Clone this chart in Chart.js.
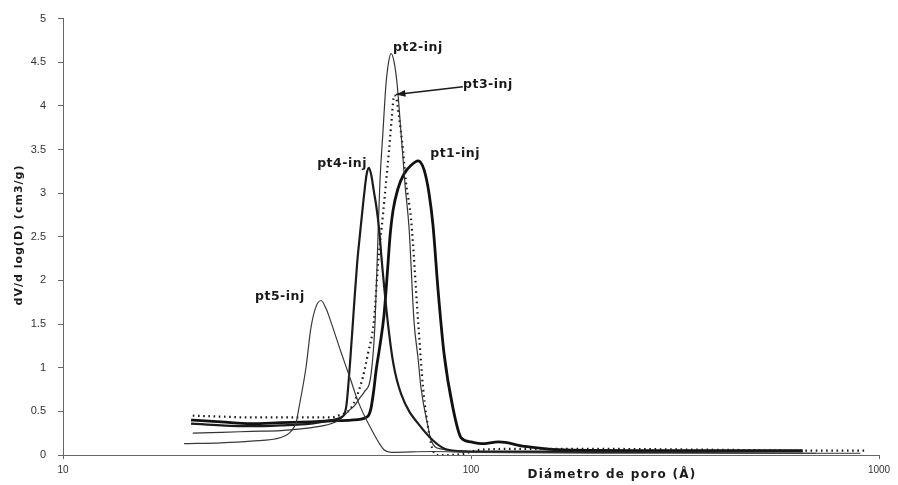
<!DOCTYPE html>
<html>
<head>
<meta charset="utf-8">
<script src="https://cdn.jsdelivr.net/npm/chart.js@4/dist/chart.umd.min.js"></script>
<style>
  html, body { margin: 0; padding: 0; background: #fff; }
  #wrap { width: 898px; height: 485px; }
</style>
</head>
<body>
<div id="wrap"><canvas id="chartPoros" width="898" height="485"></canvas></div>
<script>
// diámetro de poro (Å) y dV/d log(D)
const pt1D = [20.6, 24.4, 28.9, 34.2, 40.5, 45.4, 50.8, 53.8, 55.3, 56.2, 56.9, 57.8, 58.5, 59.8, 61.2, 62.4, 63.3, 64.4, 66.2, 68.5, 71.3, 74.2, 76.7, 78.9, 80.7, 83.0, 85.9, 90.3, 94.5, 100, 106, 117, 135, 163, 250, 400, 650];
const pt1V = [0.40, 0.38, 0.36, 0.37, 0.38, 0.39, 0.40, 0.41, 0.43, 0.46, 0.54, 0.75, 0.96, 1.25, 1.6, 2.1, 2.5, 2.8, 3.05, 3.22, 3.32, 3.37, 3.27, 3.0, 2.63, 1.9, 1.16, 0.54, 0.2, 0.15, 0.13, 0.15, 0.1, 0.06, 0.05, 0.05, 0.05];

const pt2D = [20.8, 24.4, 28.9, 34.2, 38.3, 42.9, 46.7, 48.8, 50.5, 51.7, 53.5, 54.7, 56.9, 58.2, 59.2, 59.8, 60.8, 61.9, 62.8, 63.7, 64.8, 65.9, 67.4, 68.9, 70.5, 72.5, 74.2, 75.4, 78.5, 79.8, 84.4, 100, 150, 300, 600, 900];
const pt2V = [0.25, 0.26, 0.27, 0.28, 0.30, 0.33, 0.38, 0.45, 0.52, 0.56, 0.66, 0.72, 0.93, 1.53, 2.55, 3.12, 3.68, 4.25, 4.5, 4.6, 4.5, 4.25, 3.68, 3.1, 2.6, 1.53, 1.1, 0.77, 0.32, 0.17, 0.07, 0.04, 0.03, 0.03, 0.02, 0.02];

const pt3D = [20.8, 24.4, 28.9, 34.2, 40.5, 45.4, 47.2, 50.8, 53.8, 55.9, 57.8, 59.2, 60.8, 61.9, 63.0, 64.0, 64.8, 65.5, 66.6, 68.1, 69.3, 71.3, 74.2, 76.3, 78.9, 80.7, 83.0, 88, 95, 105, 130, 200, 400, 700, 920];
const pt3V = [0.45, 0.44, 0.43, 0.43, 0.43, 0.43, 0.45, 0.54, 0.82, 1.16, 1.53, 2.2, 2.74, 3.12, 3.5, 3.88, 4.12, 4.1, 3.88, 3.5, 3.12, 2.7, 1.53, 0.77, 0.25, 0.05, 0.0, 0.0, 0.01, 0.06, 0.07, 0.07, 0.06, 0.05, 0.05];

const pt4D = [20.6, 24.4, 28.9, 34.2, 40.5, 45.4, 48.0, 49.4, 50.5, 51.7, 52.6, 53.5, 54.9, 55.5, 56.2, 57.0, 57.8, 58.6, 59.5, 60.5, 62.6, 64.5, 67.4, 75.4, 87.8, 100, 200, 400, 650];
const pt4V = [0.36, 0.34, 0.33, 0.34, 0.36, 0.40, 0.43, 0.54, 1.04, 1.72, 2.2, 2.55, 3.05, 3.22, 3.29, 3.2, 3.02, 2.85, 2.6, 2.2, 1.5, 1.05, 0.70, 0.32, 0.06, 0.04, 0.04, 0.04, 0.04];

const pt5D = [19.8, 24.4, 28.9, 34.2, 36.2, 37.3, 37.9, 39.4, 40.5, 41.7, 42.9, 44.1, 45.4, 48.0, 50.8, 52.8, 56.9, 61.2, 63.7, 80, 100, 200, 400, 700];
const pt5V = [0.13, 0.14, 0.16, 0.2, 0.27, 0.38, 0.55, 1.0, 1.45, 1.7, 1.77, 1.68, 1.52, 1.18, 0.85, 0.62, 0.3, 0.06, 0.03, 0.04, 0.03, 0.02, 0.02, 0.02];

const xTicks = [10, 100, 1000];
const yTicks = [0, 0.5, 1, 1.5, 2, 2.5, 3, 3.5, 4, 4.5, 5];

// etiquetas de curvas (en coordenadas de datos)
const etiquetas = ["pt2-inj", "pt3-inj", "pt1-inj", "pt4-inj", "pt5-inj"];
const etiquetaD = [74.1, 110, 91.4, 48.3, 34.0];
const etiquetaV = [4.67, 4.24, 3.45, 3.34, 1.81];
const flechaD = [95.5, 65.5];
const flechaV = [4.22, 4.13];

const xTitulo = "Diámetro de poro (Å)";
const yTitulo = "dV/d log(D) (cm3/g)";

function pares(ds, vs){
  return ds.map((d, i) => ({ x: d, y: vs[i] }));
}

function serie(label, ds, vs, width, color, dash){
  return {
    label,
    data: pares(ds, vs),
    borderColor: color,
    borderWidth: width,
    borderDash: dash || [],
    pointRadius: 0,
    fill: false,
    cubicInterpolationMode: "monotone"
  };
}

const textosPlugin = {
  id: "textos",
  afterDatasetsDraw(chart){
    const { ctx, scales: { x, y } } = chart;
    ctx.save();
    ctx.fillStyle = "#1a1a1a";
    ctx.textAlign = "center";
    ctx.textBaseline = "middle";
    ctx.font = "bold 12.5px 'DejaVu Sans', sans-serif";
    ctx.letterSpacing = "0.5px";
    etiquetas.forEach((t, i) => {
      ctx.fillText(t, x.getPixelForValue(etiquetaD[i]), y.getPixelForValue(etiquetaV[i]));
    });

    // flecha pt3
    const x0 = x.getPixelForValue(flechaD[0]), y0 = y.getPixelForValue(flechaV[0]);
    const x1 = x.getPixelForValue(flechaD[1]), y1 = y.getPixelForValue(flechaV[1]);
    ctx.strokeStyle = "#1a1a1a";
    ctx.lineWidth = 1.6;
    ctx.beginPath(); ctx.moveTo(x0, y0); ctx.lineTo(x1, y1); ctx.stroke();
    const ang = Math.atan2(y1 - y0, x1 - x0);
    ctx.beginPath();
    ctx.moveTo(x1, y1);
    ctx.lineTo(x1 - 10 * Math.cos(ang - 0.35), y1 - 10 * Math.sin(ang - 0.35));
    ctx.lineTo(x1 - 10 * Math.cos(ang + 0.35), y1 - 10 * Math.sin(ang + 0.35));
    ctx.closePath(); ctx.fill();

    // títulos de ejes
    ctx.font = "bold 12px 'DejaVu Sans', sans-serif";
    ctx.letterSpacing = "1.3px";
    ctx.fillText(xTitulo, 612, 475);
    ctx.translate(19, 235);
    ctx.rotate(-Math.PI / 2);
    ctx.font = "bold 11px 'DejaVu Sans', sans-serif";
    ctx.letterSpacing = "1px";
    ctx.fillText(yTitulo, 0, 0);
    ctx.restore();
  }
};

new Chart(document.getElementById("chartPoros"), {
  type: "line",
  data: {
    datasets: [
      serie("pt5-inj", pt5D, pt5V, 1.2, "#3a3a3a"),
      serie("pt4-inj", pt4D, pt4V, 2.2, "#1c1c1c"),
      serie("pt2-inj", pt2D, pt2V, 1.2, "#333"),
      serie("pt3-inj", pt3D, pt3V, 2.2, "#1c1c1c", [1.6, 3.6]),
      serie("pt1-inj", pt1D, pt1V, 2.8, "#111")
    ]
  },
  options: {
    responsive: false,
    animation: false,
    layout: { padding: { left: 0, right: 19, top: 14, bottom: 0 } },
    plugins: { legend: { display: false }, tooltip: { enabled: false } },
    scales: {
      x: {
        type: "logarithmic",
        min: 10, max: 1000,
        afterBuildTicks: s => { s.ticks = xTicks.map(v => ({ value: v })); },
        afterFit: s => { s.height = 30; },
        border: { color: "#666", width: 1 },
        grid: { display: true, drawOnChartArea: false, drawTicks: true, tickLength: 4, color: "#666" },
        ticks: {
          callback: v => String(v),
          color: "#333",
          padding: 5,
          maxRotation: 0,
          font: { family: "'Liberation Sans', Arial, sans-serif", size: 10 }
        }
      },
      y: {
        min: 0, max: 5,
        afterBuildTicks: s => { s.ticks = yTicks.map(v => ({ value: v })); },
        afterFit: s => { s.width = 63; },
        border: { color: "#666", width: 1 },
        grid: { display: true, drawOnChartArea: false, drawTicks: true, tickLength: 5, color: "#666" },
        ticks: {
          callback: v => String(v),
          color: "#333",
          padding: 12,
          font: { family: "'Liberation Sans', Arial, sans-serif", size: 11 }
        }
      }
    }
  },
  plugins: [textosPlugin]
});
</script>
</body>
</html>
